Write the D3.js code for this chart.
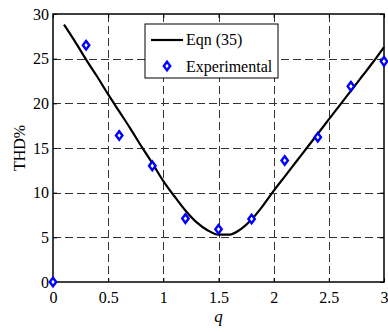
<!DOCTYPE html>
<html>
<head>
<meta charset="utf-8">
<script src="https://cdn.jsdelivr.net/npm/d3@7"></script>
<style>
  body { margin: 0; background: #fff; }
</style>
</head>
<body>
<div id="chart"></div>
<script>
// Eqn (35) curve
var qCurve = [0.1, 0.2, 0.3, 0.4, 0.5, 0.6, 0.7, 0.8, 0.9, 1.0,
              1.1, 1.2, 1.3, 1.4, 1.5, 1.6, 1.7, 1.8, 1.9, 2.0,
              2.1, 2.2, 2.3, 2.4, 2.5, 2.6, 2.7, 2.8, 2.9, 3.0];
var thdCurve = [28.8, 26.9, 24.9, 23.0, 21.0, 19.1, 17.2, 15.2, 13.3, 11.3,
                9.6, 8.0, 6.7, 5.8, 5.3, 5.3, 5.9, 7.0, 8.5, 10.2,
                11.8, 13.4, 15.0, 16.6, 18.2, 19.8, 21.4, 23.0, 24.6, 26.3];

// experimental points
var qExp = [0, 0.3, 0.6, 0.9, 1.2, 1.5, 1.8, 2.1, 2.4, 2.7, 3.0];
var thdExp = [0, 26.5, 16.4, 13.0, 7.1, 5.9, 7.05, 13.6, 16.2, 21.9, 24.7];

var xTicks = [0, 0.5, 1, 1.5, 2, 2.5, 3];
var yTicks = [0, 5, 10, 15, 20, 25, 30];

var serif = "Liberation Serif, serif";

var margin = {top: 14, right: 4, bottom: 50, left: 53},
    width = 388 - margin.left - margin.right,
    height = 332 - margin.top - margin.bottom;

var x = d3.scaleLinear().domain([0, 3]).range([0, width]);
var y = d3.scaleLinear().domain([0, 30]).range([height, 0]);

var svg = d3.select("#chart").append("svg")
    .attr("width", 388)
    .attr("height", 332)
  .append("g")
    .attr("transform", "translate(" + margin.left + "," + margin.top + ")");

// gridlines
svg.append("g")
    .selectAll("line")
    .data(xTicks.slice(1, -1))
  .enter().append("line")
    .attr("x1", function(d) { return Math.round(x(d)) + 0.5; })
    .attr("x2", function(d) { return Math.round(x(d)) + 0.5; })
    .attr("y1", 0).attr("y2", height)
    .attr("stroke", "#333").attr("stroke-dasharray", "8,4");

svg.append("g")
    .selectAll("line")
    .data(yTicks.slice(1, -1))
  .enter().append("line")
    .attr("y1", function(d) { return Math.round(y(d)) + 0.5; })
    .attr("y2", function(d) { return Math.round(y(d)) + 0.5; })
    .attr("x1", 0).attr("x2", width)
    .attr("stroke", "#333").attr("stroke-dasharray", "8,4");

// axes with inward ticks on all sides
svg.append("g")
    .attr("transform", "translate(0," + height + ")")
    .call(d3.axisBottom(x).tickValues(xTicks).tickSizeInner(-4).tickSizeOuter(0).tickPadding(10)
      .tickFormat(d3.format("")))
    .call(function(g) { g.select(".domain").remove(); })
    .selectAll("text").attr("font-size", "16px").attr("fill", "#000");

svg.append("g")
    .call(d3.axisLeft(y).tickValues(yTicks).tickSizeInner(-4).tickSizeOuter(0).tickPadding(4))
    .call(function(g) { g.select(".domain").remove(); })
    .selectAll("text").attr("font-size", "16px").attr("fill", "#000");

svg.append("g")
    .call(d3.axisTop(x).tickValues(xTicks).tickSizeInner(-4).tickSizeOuter(0).tickFormat(""))
    .call(function(g) { g.select(".domain").remove(); });

svg.append("g")
    .attr("transform", "translate(" + width + ",0)")
    .call(d3.axisRight(y).tickValues(yTicks).tickSizeInner(-4).tickSizeOuter(0).tickFormat(""))
    .call(function(g) { g.select(".domain").remove(); });

// frame
svg.append("rect")
    .attr("x", 0).attr("y", 0)
    .attr("width", width).attr("height", height)
    .attr("fill", "none").attr("stroke", "#000").attr("stroke-width", 1.5);

// curve
var line = d3.line()
    .x(function(d, i) { return x(qCurve[i]); })
    .y(function(d) { return y(d); })
    .curve(d3.curveMonotoneX);

svg.append("path")
    .datum(thdCurve)
    .attr("d", line)
    .attr("fill", "none")
    .attr("stroke", "#000")
    .attr("stroke-width", 2.2);

// diamond marker
function diamond(cx, cy) {
  return "M" + cx + "," + (cy - 4.3) + "L" + (cx + 3.2) + "," + cy +
         "L" + cx + "," + (cy + 4.3) + "L" + (cx - 3.2) + "," + cy + "Z";
}

svg.append("g")
    .selectAll("path")
    .data(thdExp)
  .enter().append("path")
    .attr("d", function(d, i) { return diamond(x(qExp[i]), y(d)); })
    .attr("fill", "#fff")
    .attr("stroke", "#0000ff")
    .attr("stroke-width", 2.4);

// axis labels
svg.append("text")
    .attr("x", width / 2)
    .attr("y", height + 40)
    .attr("text-anchor", "middle")
    .attr("font-size", "17px")
    .attr("font-style", "italic")
    .text("q");

svg.append("text")
    .attr("transform", "translate(-28," + height / 2 + ") rotate(-90)")
    .attr("text-anchor", "middle")
    .attr("font-size", "16px")
    .text("THD%");

// legend
var legend = svg.append("g")
    .attr("transform", "translate(92,10)");

legend.append("rect")
    .attr("width", 133).attr("height", 54)
    .attr("fill", "#fff").attr("stroke", "#000").attr("stroke-width", 1);

legend.append("line")
    .attr("x1", 6).attr("x2", 38)
    .attr("y1", 16).attr("y2", 16)
    .attr("stroke", "#000").attr("stroke-width", 2.2);

legend.append("text")
    .attr("x", 41).attr("y", 21)
    .attr("font-size", "16px")
    .text("Eqn (35)");

legend.append("path")
    .attr("d", diamond(22, 42))
    .attr("fill", "#fff")
    .attr("stroke", "#0000ff")
    .attr("stroke-width", 2.4);

legend.append("text")
    .attr("x", 41).attr("y", 48)
    .attr("font-size", "16px")
    .text("Experimental");

// every label in the serif face
d3.selectAll("text").style("font-family", serif);
</script>
</body>
</html>
